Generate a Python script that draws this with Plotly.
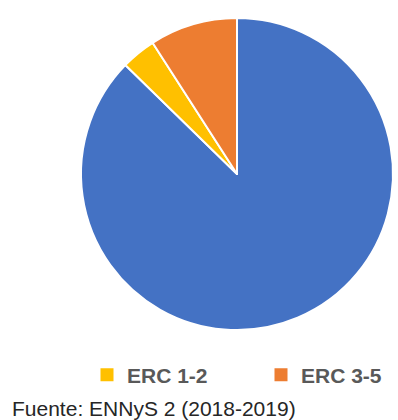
import plotly.graph_objects as go

# Prevalencia de enfermedad renal crónica (ENNyS 2)
labels = ["Sin ERC", "ERC 1-2", "ERC 3-5"]
values = [87.3, 3.6, 9.1]
colors = ["#4472C4", "#FFC000", "#ED7D31"]
legend_labels = ["ERC 1-2", "ERC 3-5"]
legend_colors = ["#FFC000", "#ED7D31"]

W, H = 398, 420

fig = go.Figure()
fig.add_trace(go.Pie(
    labels=labels,
    values=values,
    marker=dict(colors=colors, line=dict(color="white", width=2)),
    sort=False,
    direction="clockwise",
    rotation=0,
    textinfo="none",
    hoverinfo="label+percent",
    showlegend=False,
    domain=dict(x=[81 / W, 393 / W], y=[1 - 330 / H, 1 - 18 / H]),
))

# One legend box per ERC group, side by side
legend_ids = ["legend", "legend2"]
for name, col, lg in zip(legend_labels, legend_colors, legend_ids):
    fig.add_trace(go.Scatter(
        x=[None], y=[None], mode="markers", name=name,
        marker=dict(symbol="square", size=13, color=col),
        showlegend=True, legend=lg,
    ))

fig.add_annotation(
    text="Fuente: ENNyS 2 (2018-2019)",
    xref="paper", yref="paper", x=10 / W, y=1 - 408 / H,
    xanchor="left", yanchor="middle", showarrow=False,
    font=dict(family="Liberation Sans", size=21, color="#262626"),
)

legend_font = dict(family="Liberation Sans", size=21, color="#595959", weight="bold")
fig.update_layout(
    width=W, height=H,
    margin=dict(l=0, r=0, t=0, b=0),
    paper_bgcolor="white", plot_bgcolor="white",
    xaxis=dict(visible=False), yaxis=dict(visible=False),
    legend=dict(orientation="h", x=87 / W, y=1 - 375 / H,
                xanchor="left", yanchor="middle",
                font=legend_font, bgcolor="rgba(0,0,0,0)"),
    legend2=dict(orientation="h", x=261 / W, y=1 - 375 / H,
                 xanchor="left", yanchor="middle",
                 font=legend_font, bgcolor="rgba(0,0,0,0)"),
)

fig.write_html("out.html")
